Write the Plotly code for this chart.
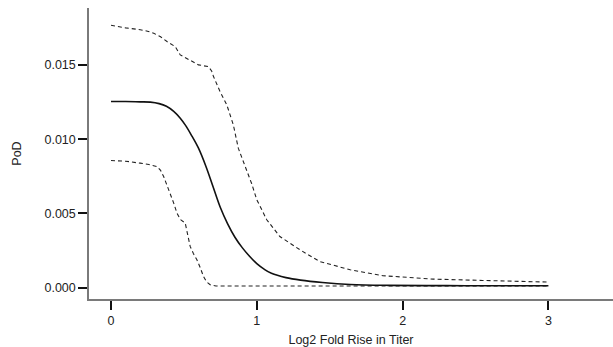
import plotly.graph_objects as go

# Log2 fold rise in titer (x) and probability of disease (PoD) with bounds
fold_rise = [0.0, 0.1, 0.2, 0.27, 0.33, 0.38, 0.43, 0.475, 0.51, 0.55, 0.6,
             0.65, 0.7, 0.75, 0.8, 0.85, 0.9, 0.95, 1.0, 1.05, 1.1, 1.2, 1.3,
             1.45, 1.64, 1.9, 2.3, 2.7, 3.0]
pod = [0.01254, 0.01254, 0.01252, 0.0125, 0.0124, 0.01222, 0.01188, 0.01142,
       0.01095, 0.0103, 0.0094, 0.0082, 0.0068, 0.0054, 0.0043, 0.0034,
       0.0027, 0.00212, 0.00162, 0.00125, 0.00097, 0.00068, 0.00051,
       0.00035, 0.00022, 0.00016, 0.00014, 0.00013, 0.00013]

lower_x = [0.0, 0.1, 0.2, 0.26, 0.316, 0.34, 0.361, 0.385, 0.407, 0.43, 0.452,
           0.475, 0.509, 0.525, 0.543, 0.565, 0.589, 0.61, 0.634, 0.655, 0.68,
           0.72, 1.0, 2.0, 3.0]
lower_pod = [0.00857, 0.00852, 0.00839, 0.0083, 0.00816, 0.0079, 0.00749,
             0.0069, 0.00637, 0.0057, 0.00503, 0.0046, 0.00435, 0.0036,
             0.00278, 0.0023, 0.00188, 0.0014, 0.00076, 0.0004, 0.0002,
             0.00012, 0.00012, 0.00012, 0.00012]

upper_x = [0.0, 0.05, 0.1, 0.2, 0.25, 0.293, 0.34, 0.384, 0.44, 0.475, 0.51,
           0.543, 0.6, 0.668, 0.69, 0.703, 0.748, 0.794, 0.839, 0.873, 0.9,
           0.93, 0.965, 1.0, 1.068, 1.158, 1.295, 1.43, 1.64, 1.865, 2.21,
           2.55, 3.0]
upper_pod = [0.01768, 0.01758, 0.0175, 0.01738, 0.01728, 0.01714, 0.0169,
             0.01658, 0.01624, 0.01568, 0.0155, 0.01534, 0.01501, 0.01489,
             0.0146, 0.01422, 0.01321, 0.01232, 0.01097, 0.0094, 0.0087,
             0.00794, 0.007, 0.00592, 0.00458, 0.00345, 0.00256, 0.00177,
             0.00121, 0.00081, 0.00058, 0.00049, 0.00038]

x_ticks = [0, 1, 2, 3]
y_ticks = [0.0, 0.005, 0.010, 0.015]
y_tick_text = ["0.000", "0.005", "0.010", "0.015"]

dash = "4px,3px"

fig = go.Figure()
fig.add_trace(go.Scatter(x=upper_x, y=upper_pod, mode="lines",
                         line=dict(color="#222222", width=1.1, dash=dash)))
fig.add_trace(go.Scatter(x=lower_x, y=lower_pod, mode="lines",
                         line=dict(color="#222222", width=1.1, dash=dash)))
fig.add_trace(go.Scatter(x=fold_rise, y=pod, mode="lines",
                         line=dict(color="#111111", width=1.6, shape="spline",
                                   smoothing=1.0)))

axis_font = dict(family="Liberation Sans, Arial, sans-serif", size=12.5, color="#222222")

fig.update_layout(
    width=613, height=347,
    margin=dict(l=89, r=0, t=8, b=48),
    paper_bgcolor="white", plot_bgcolor="white",
    showlegend=False,
    font=axis_font,
    xaxis=dict(
        range=[-0.151, 3.443],
        tickvals=x_ticks, ticktext=[str(v) for v in x_ticks],
        showgrid=False, zeroline=False,
        showline=True, linecolor="#7a7a7a", linewidth=1.5,
        ticks="outside", ticklen=9, tickwidth=2, tickcolor="#111111",
        title=dict(text="Log2 Fold Rise in Titer", standoff=8, font=axis_font),
        tickfont=axis_font,
    ),
    yaxis=dict(
        range=[-0.00076, 0.01884],
        tickvals=y_ticks, ticktext=y_tick_text,
        showgrid=False, zeroline=False,
        showline=True, linecolor="#7a7a7a", linewidth=1.5,
        ticks="outside", ticklen=9, tickwidth=2, tickcolor="#111111",
        title=dict(text="PoD", standoff=20, font=axis_font),
        tickfont=axis_font,
    ),
)

fig.write_html("out.html")
